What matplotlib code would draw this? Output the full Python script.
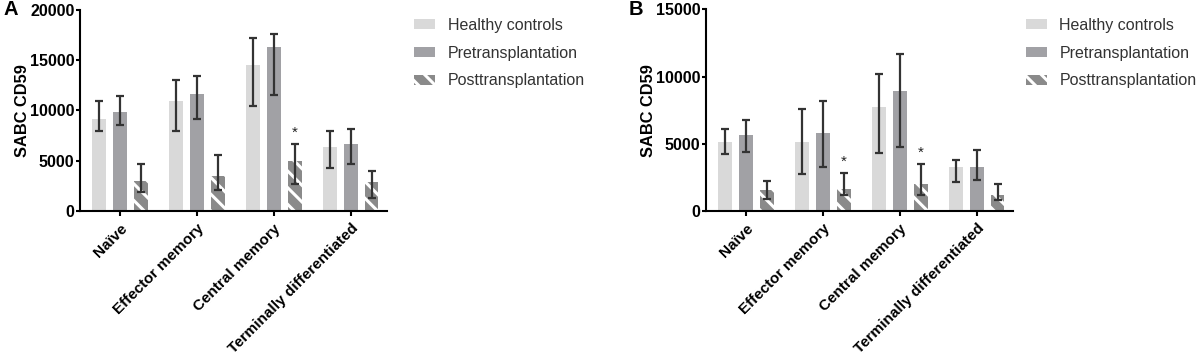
import matplotlib
matplotlib.use('Agg')
import matplotlib.pyplot as plt
import numpy as np

plt.rcParams['font.family'] = ['Liberation Sans', 'DejaVu Sans']
plt.rcParams['hatch.linewidth'] = 2.2

categories = ['Naïve', 'Effector memory', 'Central memory', 'Terminally differentiated']
series_names = ['Healthy controls', 'Pretransplantation', 'Posttransplantation']

# panel A (means, lower / upper error bar ends)
a_healthy = [9200, 10900, 14500, 6330]
a_healthy_lo = [8000, 7950, 10420, 4300]
a_healthy_hi = [10950, 13000, 17200, 8000]
a_pre = [9850, 11650, 16270, 6650]
a_pre_lo = [8600, 9200, 11580, 4720]
a_pre_hi = [11450, 13470, 17650, 8180]
a_post = [3000, 3480, 5000, 2930]
a_post_lo = [1870, 2040, 2720, 1330]
a_post_hi = [4720, 5550, 6700, 3960]
a_stars = [False, False, True, False]

# panel B
b_healthy = [5130, 5130, 7730, 3260]
b_healthy_lo = [4220, 2730, 4340, 2120]
b_healthy_hi = [6130, 7560, 10170, 3770]
b_pre = [5630, 5830, 8920, 3300]
b_pre_lo = [4390, 3300, 4760, 2300]
b_pre_hi = [6800, 8200, 11650, 4550]
b_post = [1590, 1670, 1970, 1190]
b_post_lo = [920, 1190, 1220, 820]
b_post_hi = [2260, 2860, 3490, 2000]
b_stars = [False, True, True, False]

colors = ['#d9d9d9', '#a1a1a5', '#8a8a8a']
hatches = [None, None, '\\\\']
err_color = '#333333'


def draw_panel(ax, data, stars, ymax, step):
    x = np.arange(len(categories))
    offsets = [-0.27, 0.0, 0.27]
    width = 0.18
    for i, (mean, lo, hi) in enumerate(data):
        mean = np.array(mean)
        ax.bar(x + offsets[i], mean, width, color=colors[i],
               hatch=hatches[i], edgecolor='white' if hatches[i] else colors[i],
               linewidth=0, label=series_names[i], zorder=2)
        ax.errorbar(x + offsets[i], mean,
                    yerr=[mean - np.array(lo), np.array(hi) - mean],
                    fmt='none', ecolor=err_color, elinewidth=1.6,
                    capsize=3, capthick=1.6, zorder=3)
    post_hi = data[2][2]
    for i, s in enumerate(stars):
        if s:
            ax.annotate('*', (x[i] + offsets[2], post_hi[i]), xytext=(0, 3),
                        textcoords='offset points', ha='center', va='bottom',
                        fontsize=11, color='#222222')
    ax.set_xlim(-0.52, 3.47)
    ax.set_ylim(0, ymax)
    ax.set_yticks(np.arange(0, ymax + 1, step))
    ax.set_xticks(x)
    ax.set_xticklabels(categories, rotation=45, ha='right', va='top',
                       rotation_mode='anchor', fontsize=11, fontweight='bold')
    for lab in ax.get_yticklabels():
        lab.set_fontweight('bold')
        lab.set_fontsize(11.5)
    ax.set_ylabel('SABC CD59', fontsize=11.8, fontweight='bold', labelpad=0)
    for side in ['top', 'right']:
        ax.spines[side].set_visible(False)
    for side in ['left', 'bottom']:
        ax.spines[side].set_linewidth(1.5)
    ax.tick_params(axis='y', width=1.5, length=3, pad=1)
    ax.tick_params(axis='x', width=1.5, length=3.5, pad=4)


fig = plt.figure(figsize=(11.99, 3.57), dpi=100)
ax_a = fig.add_axes([0.0667, 0.409, 0.256, 0.563])
ax_b = fig.add_axes([0.5888, 0.409, 0.256, 0.565])

draw_panel(ax_a, [(a_healthy, a_healthy_lo, a_healthy_hi),
                  (a_pre, a_pre_lo, a_pre_hi),
                  (a_post, a_post_lo, a_post_hi)], a_stars, 20000, 5000)
draw_panel(ax_b, [(b_healthy, b_healthy_lo, b_healthy_hi),
                  (b_pre, b_pre_lo, b_pre_hi),
                  (b_post, b_post_lo, b_post_hi)], b_stars, 15000, 5000)

for ax, xpos in [(ax_a, 0.3453), (ax_b, 0.8555)]:
    leg = ax.legend(loc='upper left', bbox_to_anchor=(xpos, 0.95),
                    bbox_transform=fig.transFigure, frameon=False, fontsize=11.5,
                    borderpad=0, borderaxespad=0, handlelength=1.3,
                    handleheight=0.62, handletextpad=0.8, labelspacing=0.8)
    for t in leg.get_texts():
        t.set_color('#333333')

fig.text(0.003, 0.972, 'A', fontsize=14.5, fontweight='bold', va='center')
fig.text(0.524, 0.972, 'B', fontsize=14.5, fontweight='bold', va='center')

fig.savefig('out.png', dpi=100)
